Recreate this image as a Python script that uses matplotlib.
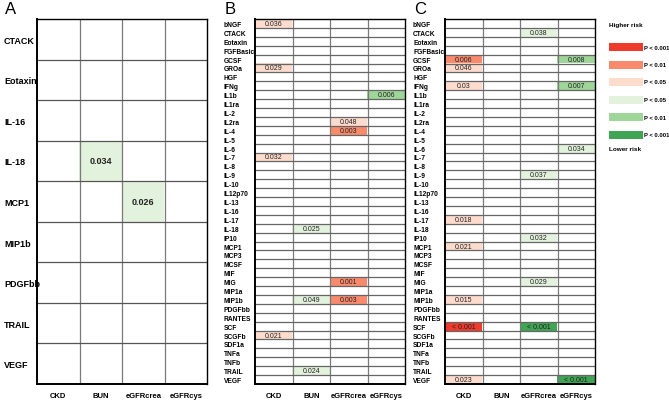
import numpy as np
import matplotlib
matplotlib.use("Agg")
import matplotlib.pyplot as plt
import matplotlib.patches as patches
from matplotlib.colors import ListedColormap, BoundaryNorm

plt.rcParams['font.family'] = ['Liberation Sans', 'DejaVu Sans']

columns = ["CKD", "BUN", "eGFRcrea", "eGFRcys"]

rows_a = ["CTACK", "Eotaxin", "IL-16", "IL-18", "MCP1", "MIP1b", "PDGFbb", "TRAIL", "VEGF"]
rows_bc = ["bNGF", "CTACK", "Eotaxin", "FGFBasic", "GCSF", "GROa", "HGF", "IFNg", "IL1b",
           "IL1ra", "IL-2", "IL2ra", "IL-4", "IL-5", "IL-6", "IL-7", "IL-8", "IL-9", "IL-10",
           "IL12p70", "IL-13", "IL-16", "IL-17", "IL-18", "IP10", "MCP1", "MCP3", "MCSF",
           "MIF", "MIG", "MIP1a", "MIP1b", "PDGFbb", "RANTES", "SCF", "SCGFb", "SDF1a",
           "TNFa", "TNFb", "TRAIL", "VEGF"]

# (cytokine, column, p-value text, level) ; level >0 higher risk, <0 lower risk
cells_a = [("IL-18", "BUN", "0.034", -1), ("MCP1", "eGFRcrea", "0.026", -1)]
cells_b = [("bNGF", "CKD", "0.036", 1), ("GROa", "CKD", "0.029", 1),
           ("IL1b", "eGFRcys", "0.006", -2), ("IL2ra", "eGFRcrea", "0.048", 1),
           ("IL-4", "eGFRcrea", "0.003", 2), ("IL-7", "CKD", "0.032", 1),
           ("IL-18", "BUN", "0.025", -1), ("MIG", "eGFRcrea", "0.001", 2),
           ("MIP1b", "BUN", "0.049", -1), ("MIP1b", "eGFRcrea", "0.003", 2),
           ("SCGFb", "CKD", "0.021", 1), ("TRAIL", "BUN", "0.024", -1)]
cells_c = [("CTACK", "eGFRcrea", "0.038", -1), ("GCSF", "CKD", "0.006", 2),
           ("GCSF", "eGFRcys", "0.008", -2), ("GROa", "CKD", "0.046", 1),
           ("IFNg", "CKD", "0.03", 1), ("IFNg", "eGFRcys", "0.007", -2),
           ("IL-6", "eGFRcys", "0.034", -1), ("IL-9", "eGFRcrea", "0.037", -1),
           ("IL-17", "CKD", "0.018", 1), ("IP10", "eGFRcrea", "0.032", -1),
           ("MCP1", "CKD", "0.021", 1), ("MIG", "eGFRcrea", "0.029", -1),
           ("MIP1b", "CKD", "0.015", 1), ("SCF", "CKD", "< 0.001", 3),
           ("SCF", "eGFRcrea", "< 0.001", -3), ("VEGF", "CKD", "0.023", 1),
           ("VEGF", "eGFRcys", "< 0.001", -3)]

levels = [-3, -2, -1, 0, 1, 2, 3]
level_colors = ["#3fa555", "#9ed598", "#e3f2dc", "#ffffff", "#fddcce", "#f98b6c", "#ee3b2c"]
legend_levels = [3, 2, 1, -1, -2, -3]
legend_text = ["P < 0.001", "P < 0.01", "P < 0.05", "P < 0.05", "P < 0.01", "P < 0.001"]

cmap = ListedColormap(level_colors)
norm = BoundaryNorm(np.arange(-3.5, 4.5, 1), cmap.N)

W, H = 669, 402
fig = plt.figure(figsize=(W / 100, H / 100), dpi=100)


def panel(rect, rows, cells, label, label_x, ysize, tsize, hcolor):
    l, r, t, b = rect
    ax = fig.add_axes([l / W, 1 - b / H, (r - l) / W, (b - t) / H])
    grid = np.zeros((len(rows), len(columns)))
    for name, col, txt, lev in cells:
        i, j = rows.index(name), columns.index(col)
        grid[i, j] = lev
        ax.text(j, i, txt, ha="center", va="center", fontsize=tsize,
                fontweight="bold" if ysize > 6 else "normal", color="#222222")
    ax.imshow(grid, cmap=cmap, norm=norm, aspect="auto", interpolation="nearest")
    for x in np.arange(0.5, len(columns) - 1):
        ax.axvline(x, color="#7a7a7a", lw=0.9)
    for y in np.arange(0.5, len(rows) - 1):
        ax.axhline(y, color=hcolor, lw=0.9)
    ax.set_xticks(range(len(columns)))
    ax.set_xticklabels(columns, fontsize=5.5, fontweight="bold")
    ax.set_yticks(range(len(rows)))
    ax.set_yticklabels(rows, fontsize=ysize, fontweight="bold", ha="left")
    ax.tick_params(length=0, which="both")
    ax.tick_params(axis="x", pad=6)
    pad = (l - label_x) * 72 / 100
    ax.tick_params(axis="y", pad=pad)
    for s in ax.spines.values():
        s.set_color("black")
        s.set_linewidth(1.0)
    ax.spines["left"].set_linewidth(1.4)
    ax.spines["bottom"].set_linewidth(1.4)
    fig.text((label_x + 1) / W, 1 - 10 / H, label, fontsize=12, va="center", ha="left")
    return ax


panel((37, 207, 20, 385), rows_a, cells_a, "A", 4, 6.5, 6.5, "#555555")
panel((255, 405, 20, 385), rows_bc, cells_b, "B", 224, 4.8, 5, "#666666")
panel((445, 595, 20, 385), rows_bc, cells_c, "C", 413, 4.8, 5, "#666666")

# legend
fig.text(609 / W, 1 - 25 / H, "Higher risk", fontsize=4.6, fontweight="bold", va="center")
for k, (lev, txt) in enumerate(zip(legend_levels, legend_text)):
    yc = 48 + k * 17.5
    fig.patches.append(patches.Rectangle((609 / W, 1 - (yc + 4) / H), 34 / W, 8 / H,
                                         transform=fig.transFigure,
                                         facecolor=level_colors[levels.index(lev)],
                                         edgecolor="none"))
    fig.text(643.5 / W, 1 - yc / H, txt, fontsize=4.2, fontweight="bold", va="center")
fig.text(609 / W, 1 - 150 / H, "Lower risk", fontsize=4.6, fontweight="bold", va="center")

fig.savefig("out.png", dpi=100)
